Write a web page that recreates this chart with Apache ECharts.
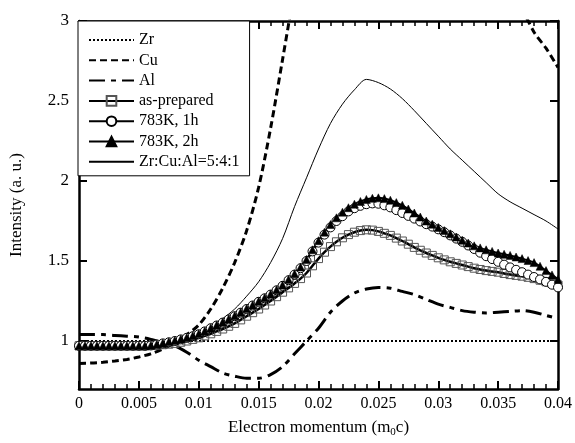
<!DOCTYPE html>
<html>
<head>
<meta charset="utf-8">
<script src="https://cdn.jsdelivr.net/npm/echarts@6/dist/echarts.min.js"></script>
<style>
  html, body { margin: 0; padding: 0; background: #fff; }
  #main { width: 575px; height: 443px; }
</style>
</head>
<body>
<div id="main"></div>
<script>
// x grid for the line-only curves (step 0.001) and for the curves with markers (step 0.0005)
var xCoarse = [0, 0.001, 0.002, 0.003, 0.004, 0.005, 0.006, 0.007, 0.008, 0.009,
  0.010, 0.011, 0.012, 0.013, 0.014, 0.015, 0.016, 0.017, 0.018, 0.019,
  0.020, 0.021, 0.022, 0.023, 0.024, 0.025, 0.026, 0.027, 0.028, 0.029,
  0.030, 0.031, 0.032, 0.033, 0.034, 0.035, 0.036, 0.037, 0.038, 0.039, 0.040]
var xFine = [0, 0.0005, 0.001, 0.0015, 0.002, 0.0025, 0.003, 0.0035, 0.004, 0.0045,
  0.005, 0.0055, 0.006, 0.0065, 0.007, 0.0075, 0.008, 0.0085, 0.009, 0.0095,
  0.010, 0.0105, 0.011, 0.0115, 0.012, 0.0125, 0.013, 0.0135, 0.014, 0.0145,
  0.015, 0.0155, 0.016, 0.0165, 0.017, 0.0175, 0.018, 0.0185, 0.019, 0.0195,
  0.020, 0.0205, 0.021, 0.0215, 0.022, 0.0225, 0.023, 0.0235, 0.024, 0.0245,
  0.025, 0.0255, 0.026, 0.0265, 0.027, 0.0275, 0.028, 0.0285, 0.029, 0.0295,
  0.030, 0.0305, 0.031, 0.0315, 0.032, 0.0325, 0.033, 0.0335, 0.034, 0.0345,
  0.035, 0.0355, 0.036, 0.0365, 0.037, 0.0375, 0.038, 0.0385, 0.039, 0.0395, 0.040]

var zrVals = [1, 1, 1, 1, 1, 1, 1, 1, 1, 1, 1, 1, 1, 1, 1, 1, 1, 1, 1, 1, 1,
  1, 1, 1, 1, 1, 1, 1, 1, 1, 1, 1, 1, 1, 1, 1, 1, 1, 1, 1, 1]
// Cu leaves the plot at the top between ~0.018 and ~0.037
var cuVals = [0.86, 0.862, 0.867, 0.875, 0.885, 0.9, 0.92, 0.95, 0.99, 1.04,
  1.1, 1.2, 1.33, 1.49, 1.69, 1.96, 2.33, 2.76, 3.2, null,
  null, null, null, null, null, null, null, null, null, null,
  null, null, null, null, null, null, null, 3.08, 2.93, 2.83, 2.71]
var alVals = [1.04, 1.04, 1.04, 1.035, 1.03, 1.025, 1.01, 0.99, 0.97, 0.93,
  0.88, 0.84, 0.80, 0.78, 0.767, 0.767, 0.79, 0.84, 0.92, 1.0,
  1.08, 1.18, 1.25, 1.30, 1.325, 1.335, 1.33, 1.31, 1.29, 1.26,
  1.23, 1.21, 1.19, 1.18, 1.175, 1.18, 1.185, 1.19, 1.18, 1.16, 1.14]
var mixVals = [0.975, 0.975, 0.975, 0.975, 0.975, 0.975, 0.978, 0.985, 1.0, 1.02,
  1.05, 1.09, 1.14, 1.2, 1.28, 1.37, 1.49, 1.64, 1.84, 2.02,
  2.2, 2.36, 2.48, 2.57, 2.635, 2.615, 2.575, 2.515, 2.44, 2.36,
  2.28, 2.2, 2.13, 2.06, 1.99, 1.92, 1.87, 1.83, 1.79, 1.75, 1.70]

var asPrepVals = [0.97, 0.97, 0.97, 0.97, 0.97, 0.97, 0.97, 0.97, 0.97, 0.97,
  0.97, 0.97, 0.972, 0.974, 0.977, 0.98, 0.985, 0.992, 1.0, 1.01,
  1.02, 1.032, 1.045, 1.06, 1.075, 1.092, 1.11, 1.132, 1.155, 1.177,
  1.2, 1.225, 1.25, 1.277, 1.305, 1.332, 1.36, 1.39, 1.425, 1.47,
  1.515, 1.555, 1.59, 1.62, 1.645, 1.665, 1.68, 1.69, 1.695, 1.693,
  1.685, 1.673, 1.66, 1.643, 1.625, 1.605, 1.585, 1.567, 1.55, 1.535,
  1.52, 1.507, 1.495, 1.485, 1.475, 1.465, 1.455, 1.447, 1.44, 1.435,
  1.43, 1.422, 1.415, 1.41, 1.405, 1.398, 1.39, 1.38, 1.37, 1.36, 1.35]
var h1Vals = [0.97, 0.97, 0.97, 0.97, 0.97, 0.97, 0.97, 0.97, 0.97, 0.97,
  0.97, 0.97, 0.972, 0.978, 0.985, 0.992, 1.0, 1.01, 1.02, 1.03,
  1.042, 1.06, 1.08, 1.097, 1.115, 1.135, 1.155, 1.177, 1.2, 1.222,
  1.245, 1.267, 1.29, 1.317, 1.345, 1.38, 1.415, 1.455, 1.5, 1.56,
  1.615, 1.665, 1.71, 1.75, 1.78, 1.81, 1.83, 1.845, 1.855, 1.86,
  1.858, 1.848, 1.835, 1.818, 1.8, 1.782, 1.765, 1.747, 1.73, 1.715,
  1.698, 1.68, 1.66, 1.64, 1.62, 1.597, 1.575, 1.552, 1.53, 1.512,
  1.495, 1.477, 1.46, 1.445, 1.43, 1.415, 1.4, 1.385, 1.37, 1.352, 1.335]
var h2Vals = [0.97, 0.97, 0.97, 0.97, 0.97, 0.97, 0.97, 0.97, 0.97, 0.97,
  0.97, 0.97, 0.973, 0.98, 0.987, 0.995, 1.003, 1.012, 1.022, 1.033,
  1.045, 1.062, 1.082, 1.1, 1.118, 1.138, 1.158, 1.18, 1.203, 1.225,
  1.248, 1.27, 1.294, 1.32, 1.35, 1.385, 1.42, 1.462, 1.51, 1.57,
  1.627, 1.68, 1.728, 1.77, 1.805, 1.833, 1.855, 1.872, 1.885, 1.892,
  1.895, 1.89, 1.88, 1.865, 1.848, 1.825, 1.8, 1.775, 1.75, 1.73,
  1.71, 1.69, 1.67, 1.65, 1.63, 1.612, 1.595, 1.582, 1.57, 1.56,
  1.55, 1.542, 1.535, 1.525, 1.515, 1.503, 1.49, 1.467, 1.44, 1.413, 1.385]

var yTicks = [1, 1.5, 2, 2.5, 3]
var seriesNames = ['Zr', 'Cu', 'Al', 'as-prepared', '783K, 1h', '783K, 2h', 'Zr:Cu:Al=5:4:1']

function pairs (xs, ys) {
  return xs.map(function (x, i) { return [x, ys[i]] })
}

var serif = 'Liberation Serif'
var chart = echarts.init(document.getElementById('main'))

var xBase = {
  type: 'value', min: 0, max: 0.04, interval: 0.005,
  splitLine: {show: false},
  axisLine: {onZero: false, lineStyle: {color: '#000', width: 2.5}},
  axisTick: {inside: true, length: 8, lineStyle: {color: '#000', width: 2}},
  minorTick: {show: true, splitNumber: 5, length: 5, lineStyle: {color: '#000', width: 1.5}}
}
var yBase = {
  type: 'value', min: 0.7, max: 3,
  splitLine: {show: false},
  axisLine: {onZero: false, lineStyle: {color: '#000', width: 2.5}},
  axisTick: {inside: true, length: 8, customValues: yTicks, lineStyle: {color: '#000', width: 2}}
}

// plain line without markers; the legend dot is made transparent
function plainLine (name, xs, ys, width, dash, smooth) {
  return {
    name: name, type: 'line', symbol: 'none', smooth: smooth,
    data: pairs(xs, ys),
    itemStyle: {color: 'rgba(0,0,0,0)', borderWidth: 0},
    lineStyle: {color: '#000', width: width, type: dash}
  }
}

var opt = {
  animation: false,
  backgroundColor: '#fff',
  grid: {left: 78, top: 21, right: 17, bottom: 47},
  legend: {
    data: seriesNames,
    orient: 'vertical',
    left: 78, top: 21,
    backgroundColor: '#fff',
    borderColor: '#000', borderWidth: 1,
    padding: [10, 10, 5, 10],
    itemWidth: 45, itemHeight: 12, itemGap: 2.3,
    textStyle: {fontFamily: serif, fontSize: 16, color: '#000', lineHeight: 18},
    z: 10
  },
  xAxis: [
    Object.assign({}, xBase, {
      position: 'bottom',
      name: 'Electron momentum (m{sub|0}c)',
      nameLocation: 'middle', nameGap: 29,
      nameTextStyle: {
        fontFamily: serif, fontSize: 17, color: '#000',
        rich: {sub: {fontFamily: serif, fontSize: 11, color: '#000', padding: [9, 0, 0, 0]}}
      },
      axisLabel: {color: '#000', fontFamily: serif, fontSize: 16, margin: 7}
    }),
    Object.assign({}, xBase, {position: 'top', axisLabel: {show: false}})
  ],
  yAxis: [
    Object.assign({}, yBase, {
      position: 'left',
      name: 'Intensity (a. u.)',
      nameLocation: 'middle', nameGap: 54,
      nameTextStyle: {fontFamily: serif, fontSize: 17, color: '#000'},
      axisLabel: {color: '#000', fontFamily: serif, fontSize: 17, margin: 10, customValues: yTicks}
    }),
    Object.assign({}, yBase, {position: 'right', axisLabel: {show: false}})
  ],
  series: [
    plainLine('Zr', xCoarse, zrVals, 2, [2, 2], false),
    plainLine('Cu', xCoarse, cuVals, 3, [7, 4], 0.3),
    plainLine('Al', xCoarse, alVals, 3, [16, 6, 5, 6], 0.3),
    plainLine('Zr:Cu:Al=5:4:1', xCoarse, mixVals, 1, 'solid', 0.3),
    {
      name: 'as-prepared', type: 'line', smooth: 0.3,
      symbol: 'rect', symbolSize: 8, showAllSymbol: true,
      data: pairs(xFine, asPrepVals),
      lineStyle: {color: '#000', width: 2.5},
      itemStyle: {color: 'rgba(255,255,255,0)', borderColor: '#555', borderWidth: 1}
    },
    {
      name: '783K, 1h', type: 'line', smooth: 0.3,
      symbol: 'circle', symbolSize: 9, showAllSymbol: true,
      data: pairs(xFine, h1Vals),
      lineStyle: {color: '#000', width: 2},
      itemStyle: {color: '#fff', borderColor: '#000', borderWidth: 1}
    },
    {
      name: '783K, 2h', type: 'line', smooth: 0.3,
      symbol: 'triangle', symbolSize: 8, showAllSymbol: true,
      data: pairs(xFine, h2Vals),
      lineStyle: {color: '#000', width: 2},
      itemStyle: {color: '#000', borderColor: '#000', borderWidth: 0.5}
    }
  ]
}
chart.setOption(opt)
</script>
</body>
</html>
